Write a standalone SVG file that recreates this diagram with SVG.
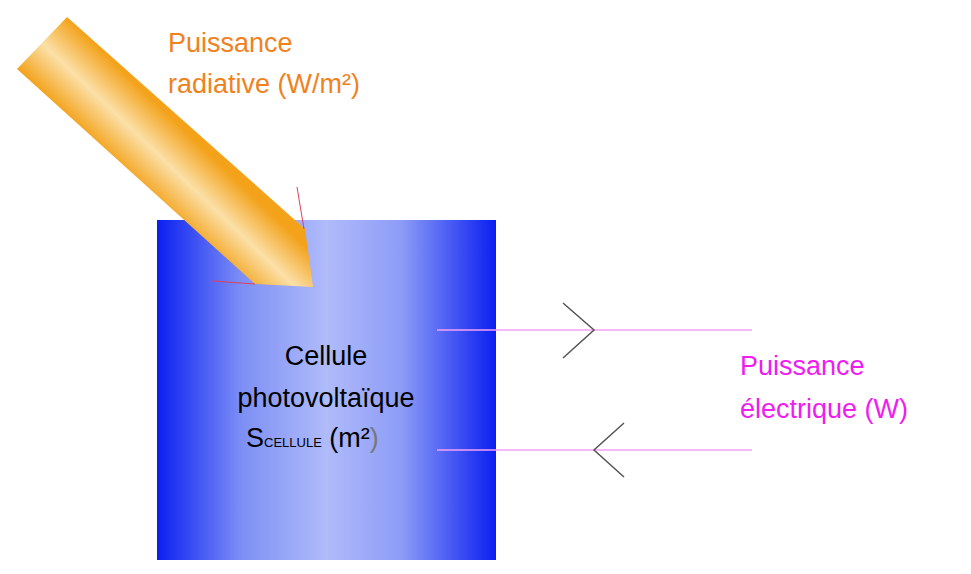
<svg xmlns="http://www.w3.org/2000/svg" width="971" height="574" viewBox="0 0 971 574">
<defs>
<linearGradient id="blue" x1="0" x2="1" y1="0" y2="0">
<stop offset="0" stop-color="#0a1ff0"/><stop offset="0.25" stop-color="#7d8ff5"/><stop offset="0.5" stop-color="#b0bbfa"/><stop offset="0.72" stop-color="#8d9cf7"/><stop offset="1" stop-color="#0a1ff0"/>
</linearGradient>
<linearGradient id="sun" gradientUnits="userSpaceOnUse" x1="42" y1="43" x2="290" y2="-230" gradientTransform="translate(0,0)">
<stop offset="0" stop-color="#f3a21a"/><stop offset="1" stop-color="#f3a21a"/>
</linearGradient>
<linearGradient id="sun2" gradientUnits="userSpaceOnUse" x1="17" y1="69" x2="67" y2="17" spreadMethod="pad">
<stop offset="0" stop-color="#f3a21a"/><stop offset="0.5" stop-color="#fbe0a8"/><stop offset="1" stop-color="#f3a21a"/>
</linearGradient>
<style>
.t{font-family:"Liberation Sans",Arial,sans-serif;font-size:27px}
.pk{stroke:#f6a0f4;stroke-width:1.5}
.ch{stroke:#555;stroke-width:1.5;fill:none}
</style>
</defs>
<g id="cellule">
<rect x="157" y="220" width="339" height="340" fill="url(#blue)"/>
<text class="t" x="326" y="365" text-anchor="middle" fill="#000">Cellule</text>
<text class="t" x="326" y="407" text-anchor="middle" fill="#000">photovoltaïque</text>
<text class="t" x="246" y="447" fill="#000">S<tspan font-size="13">CELLULE</tspan> (m²<tspan fill="#777">)</tspan></text>
</g>
<g id="rayonnement">
<polygon points="67,17 305,229 313,287 255,284 17,69" fill="url(#sun2)"/>
<line x1="297" y1="187" x2="304" y2="229" stroke="#e0405a" stroke-width="1"/>
<line x1="212" y1="281" x2="255" y2="284" stroke="#e0405a" stroke-width="1"/>
<text class="t" x="168" y="52" fill="#f0821e">Puissance</text>
<text class="t" x="168" y="93" fill="#f0821e">radiative (W/m²)</text>
</g>
<g id="connecteurs">
<line class="pk" x1="437" y1="330" x2="752" y2="330"/>
<line class="pk" x1="437" y1="450" x2="752" y2="450"/>
<polyline class="ch" points="563,303 594,330 563,358"/>
<polyline class="ch" points="624,423 594,450 624,477"/>
</g>
<g id="electrique">
<text class="t" x="740" y="375" fill="#f01cf0">Puissance</text>
<text class="t" x="740" y="418" fill="#f01cf0">électrique (W)</text>
</g>
</svg>
